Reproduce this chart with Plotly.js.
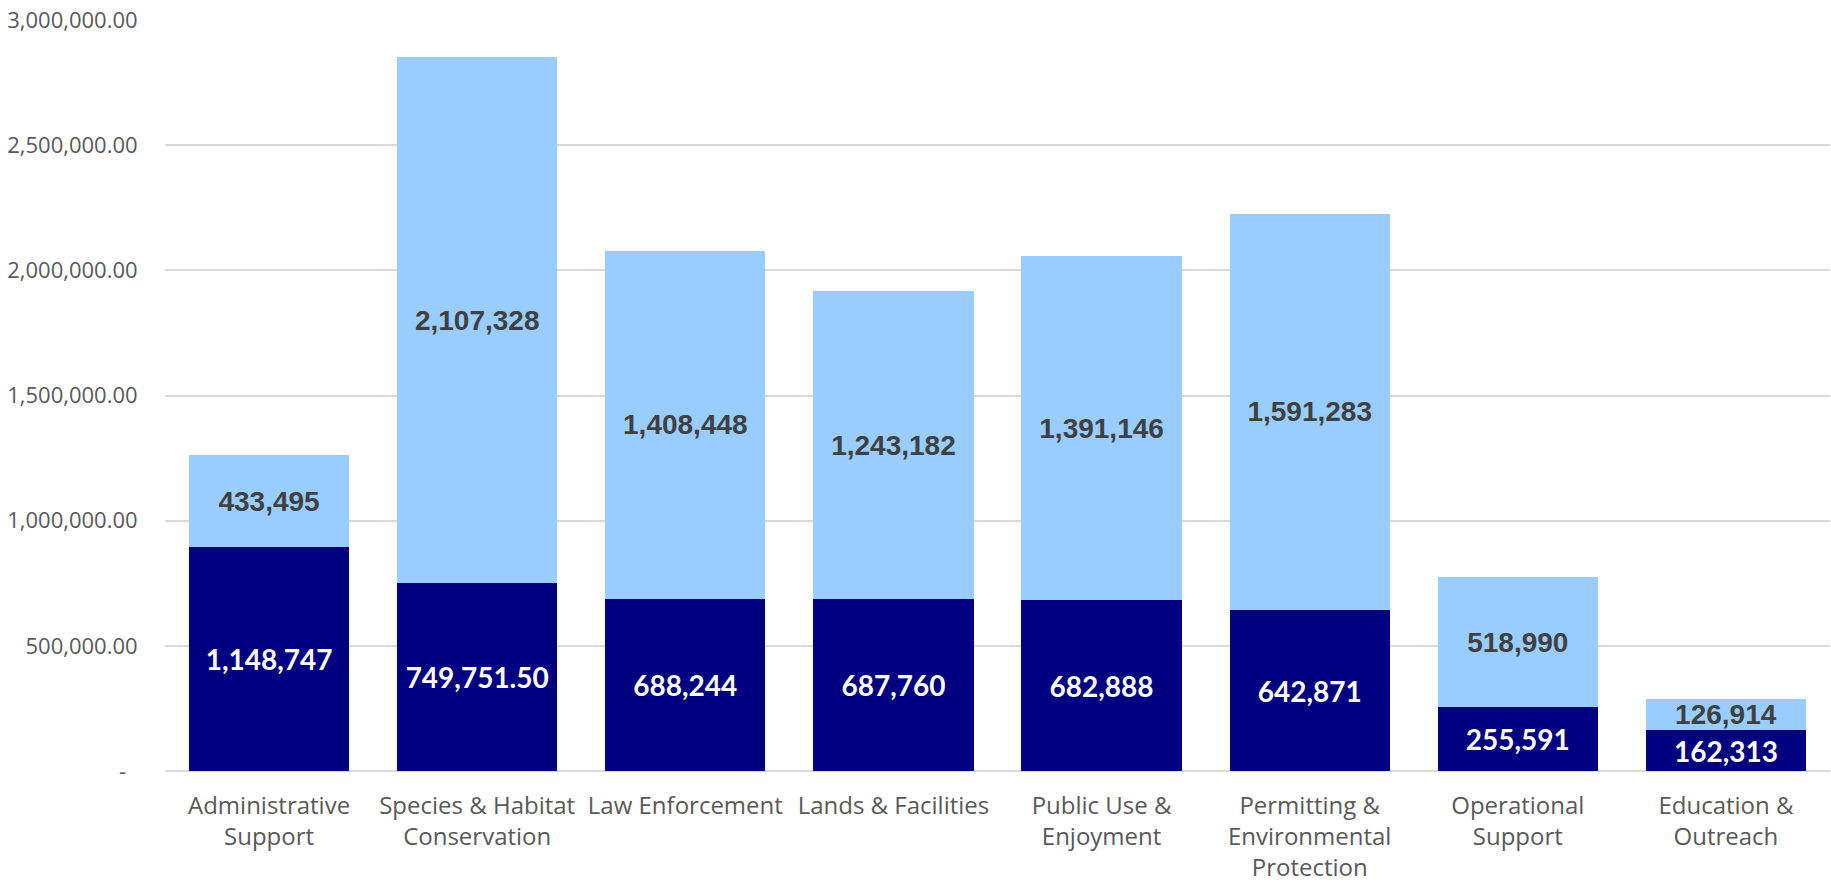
<!DOCTYPE html>
<html>
<head>
<meta charset="utf-8">
<script src="https://cdn.plot.ly/plotly-3.0.1.min.js"></script>
<style>
  html, body { margin: 0; padding: 0; background: #ffffff; }
  #chart { width: 1831px; height: 882px; }
</style>
</head>
<body>
<div id="chart"></div>
<script>
// Categories (x-axis)
const categories = [
  "Administrative<br>Support",
  "Species & Habitat<br>Conservation",
  "Law Enforcement",
  "Lands & Facilities",
  "Public Use &<br>Enjoyment",
  "Permitting &<br>Environmental<br>Protection",
  "Operational<br>Support",
  "Education &<br>Outreach"
];

// Bar heights
const darkValues  = [893000, 749751.5, 688244, 687760, 682888, 642871, 255591, 162313];
const lightValues = [370300, 2101000, 1389300, 1227900, 1372600, 1583200, 517500, 123400];

// Data labels as printed on the bars
const darkLabels  = ["1,148,747", "749,751.50", "688,244", "687,760", "682,888", "642,871", "255,591", "162,313"];
const lightLabels = ["433,495", "2,107,328", "1,408,448", "1,243,182", "1,391,146", "1,591,283", "518,990", "126,914"];

// Y-axis ticks
const yTickVals = [0, 500000, 1000000, 1500000, 2000000, 2500000, 3000000];
const yTickText = ["-\u00a0\u00a0", "500,000.00", "1,000,000.00", "1,500,000.00", "2,000,000.00", "2,500,000.00", "3,000,000.00"];

const traces = [
  {
    type: "bar",
    name: "Dark",
    x: categories,
    y: darkValues,
    text: darkLabels,
    texttemplate: "%{text}",
    textposition: "inside",
    insidetextanchor: "middle",
    textangle: 0,
    constraintext: "none",
    textfont: { family: "Lato, 'Liberation Sans', Arial, sans-serif", size: 28, color: "#ffffff", weight: 700 },
    marker: { color: "#000080" },
    hoverinfo: "skip"
  },
  {
    type: "bar",
    name: "Light",
    x: categories,
    y: lightValues,
    text: lightLabels,
    texttemplate: "%{text}",
    textposition: "inside",
    insidetextanchor: "middle",
    textangle: 0,
    constraintext: "none",
    textfont: { family: "'Liberation Sans', Arial, sans-serif", size: 28, color: "#404040", weight: 700 },
    marker: { color: "#99CCFF" },
    hoverinfo: "skip"
  }
];

const layout = {
  width: 1831,
  height: 882,
  margin: { l: 165, r: 1, t: 20, b: 111 },
  paper_bgcolor: "#ffffff",
  plot_bgcolor: "#ffffff",
  barmode: "stack",
  bargap: 0.23,
  showlegend: false,
  xaxis: {
    type: "category",
    tickfont: { family: "'Open Sans', sans-serif", size: 24, color: "#595959" },
    ticks: "outside",
    ticklen: 13,
    tickcolor: "rgba(0,0,0,0)",
    showline: false,
    showgrid: false,
    zeroline: false,
    fixedrange: true
  },
  yaxis: {
    range: [0, 3000000],
    tickmode: "array",
    tickvals: yTickVals,
    ticktext: yTickText,
    tickfont: { family: "'Open Sans', sans-serif", size: 22, color: "#595959" },
    ticks: "outside",
    ticklen: 22,
    tickcolor: "rgba(0,0,0,0)",
    showgrid: true,
    gridcolor: "#d9d9d9",
    gridwidth: 2,
    zeroline: true,
    zerolinecolor: "#d9d9d9",
    zerolinewidth: 2,
    showline: false,
    fixedrange: true
  }
};

Plotly.newPlot("chart", traces, layout, { displayModeBar: false, staticPlot: true });
</script>
</body>
</html>
